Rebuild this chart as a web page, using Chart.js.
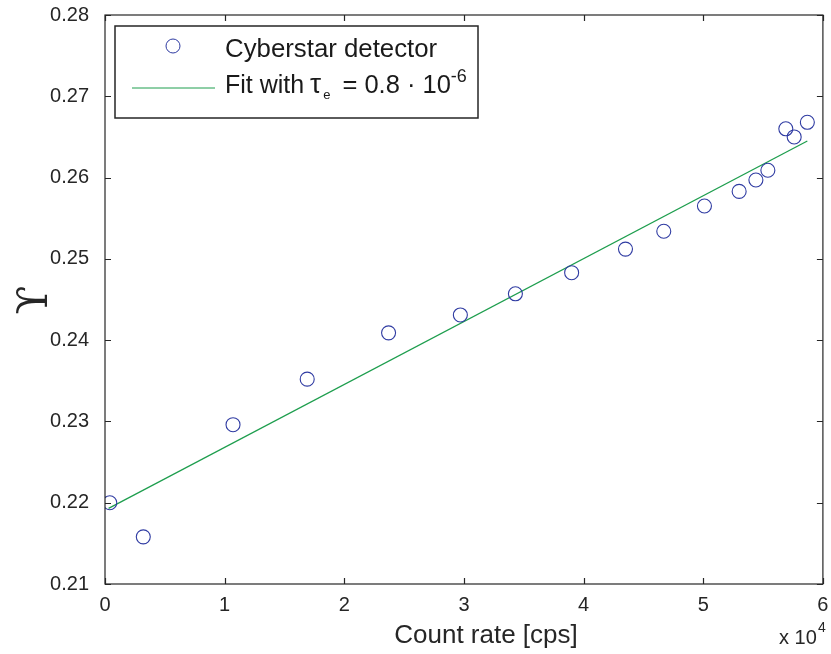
<!DOCTYPE html>
<html>
<head>
<meta charset="utf-8">
<script src="https://cdn.jsdelivr.net/npm/chart.js@4.4.0/dist/chart.umd.min.js"></script>
<style>
  html, body { margin: 0; padding: 0; background: #fff; }
  #wrap { width: 831px; height: 654px; }
</style>
</head>
<body>
<div id="wrap"><canvas id="plot" width="831" height="654"></canvas></div>
<script>
// count rate in units of 10^4 cps
const countRate = [0.04, 0.32, 1.07, 1.69, 2.37, 2.97, 3.43, 3.90, 4.35, 4.67, 5.01, 5.30, 5.44, 5.54, 5.69, 5.76, 5.87];
const upsilon = [0.2200, 0.2158, 0.2296, 0.2352, 0.2409, 0.2431, 0.2457, 0.2483, 0.2512, 0.2534, 0.2565, 0.2583, 0.2597, 0.2609, 0.2660, 0.2650, 0.2668];
const fitX = [0.03, 5.87];
const fitY = [0.2193, 0.2645];
const xTicks = [0, 1, 2, 3, 4, 5, 6];
const yTicks = [0.21, 0.22, 0.23, 0.24, 0.25, 0.26, 0.27, 0.28];

const sans = '"Liberation Sans", Arial, sans-serif';
const axisColor = '#262626';
const markerColor = '#2f3ba2';
const fitColor = '#1e9e4e';

const pts = countRate.map((x, i) => ({x: x, y: upsilon[i]}));
const fitPts = fitX.map((x, i) => ({x: x, y: fitY[i]}));

// box, inward ticks, axis titles and legend like the matlab figure
const matlabFrame = {
  id: 'matlabFrame',
  afterDraw(chart) {
    const ctx = chart.ctx;
    const a = chart.chartArea;
    const xs = chart.scales.x, ys = chart.scales.y;
    const tl = 6;
    ctx.save();
    ctx.strokeStyle = axisColor;
    ctx.lineWidth = 1.2;
    ctx.strokeRect(a.left, a.top, a.right - a.left, a.bottom - a.top);
    ctx.beginPath();
    xTicks.forEach(v => {
      const px = Math.round(xs.getPixelForValue(v)) + 0.5;
      ctx.moveTo(px, a.bottom); ctx.lineTo(px, a.bottom - tl);
      ctx.moveTo(px, a.top); ctx.lineTo(px, a.top + tl);
    });
    yTicks.forEach(v => {
      const py = Math.round(ys.getPixelForValue(v)) + 0.5;
      ctx.moveTo(a.left, py); ctx.lineTo(a.left + tl, py);
      ctx.moveTo(a.right, py); ctx.lineTo(a.right - tl, py);
    });
    ctx.stroke();

    // axis titles
    ctx.fillStyle = axisColor;
    ctx.font = '26px ' + sans;
    ctx.textAlign = 'center';
    ctx.textBaseline = 'alphabetic';
    ctx.fillText('Count rate [cps]', 486, 643);

    ctx.font = '20px ' + sans;
    ctx.textAlign = 'left';
    ctx.fillText('x 10', 779, 644);
    ctx.font = '14px ' + sans;
    ctx.fillText('4', 818, 632);

    ctx.save();
    ctx.translate(47, 300);
    ctx.rotate(-Math.PI / 2);
    ctx.font = '42px "DejaVu Serif", "Liberation Serif", serif';
    ctx.textAlign = 'center';
    ctx.fillText('\u03D2', 0, 0);
    ctx.restore();

    // legend
    ctx.fillStyle = '#fff';
    ctx.fillRect(115, 26, 363, 92);
    ctx.strokeStyle = axisColor;
    ctx.lineWidth = 1.5;
    ctx.strokeRect(115, 26, 363, 92);

    ctx.strokeStyle = markerColor;
    ctx.lineWidth = 1;
    ctx.beginPath();
    ctx.arc(173, 46, 7, 0, Math.PI * 2);
    ctx.stroke();

    ctx.strokeStyle = fitColor;
    ctx.beginPath();
    ctx.moveTo(132, 88); ctx.lineTo(215, 88);
    ctx.stroke();

    ctx.fillStyle = '#1a1a1a';
    ctx.font = '25.8px ' + sans;
    ctx.fillText('Cyberstar detector', 225, 57);
    let x = 225;
    const put = (txt, font, y, gap) => {
      ctx.font = font;
      ctx.fillText(txt, x, y);
      x += ctx.measureText(txt).width + (gap || 0);
    };
    put('Fit with ', '25px ' + sans, 93, -1);
    put('\u03C4', '28px ' + sans, 93, 2);
    put('e', '13px ' + sans, 99, 12);
    put('= 0.8 \u00B7 10', '25.5px ' + sans, 93);
    put('-6', '18px ' + sans, 82);
    ctx.restore();
  }
};

new Chart(document.getElementById('plot'), {
  type: 'scatter',
  data: {
    datasets: [{
      label: 'Cyberstar detector',
      data: pts,
      showLine: false,
      pointStyle: 'circle',
      pointRadius: 7,
      pointBorderWidth: 1.1,
      pointBorderColor: markerColor,
      pointBackgroundColor: 'rgba(0,0,0,0)'
    }, {
      label: 'Fit',
      data: fitPts,
      showLine: true,
      pointRadius: 0,
      borderColor: fitColor,
      borderWidth: 1.3,
      fill: false
    }]
  },
  options: {
    responsive: false,
    animation: false,
    devicePixelRatio: 1,
    layout: { padding: { top: 15, right: 3, left: 0, bottom: 0 } },
    plugins: { legend: { display: false }, tooltip: { enabled: false } },
    scales: {
      x: {
        type: 'linear', min: 0, max: 6,
        ticks: { stepSize: 1, color: axisColor, font: { family: sans, size: 20 }, padding: 1, maxRotation: 0 },
        grid: { display: false }, border: { display: false },
        afterFit: s => { s.height = 70; s.paddingLeft = 0; s.paddingRight = 0; }
      },
      y: {
        type: 'linear', min: 0.21, max: 0.28,
        ticks: { stepSize: 0.01, color: axisColor, font: { family: sans, size: 20 }, padding: 8,
                 callback: v => v.toFixed(2) },
        grid: { display: false }, border: { display: false },
        afterFit: s => { s.width = 105; s.paddingTop = 0; s.paddingBottom = 0; }
      }
    }
  },
  plugins: [matlabFrame]
});
</script>
</body>
</html>
